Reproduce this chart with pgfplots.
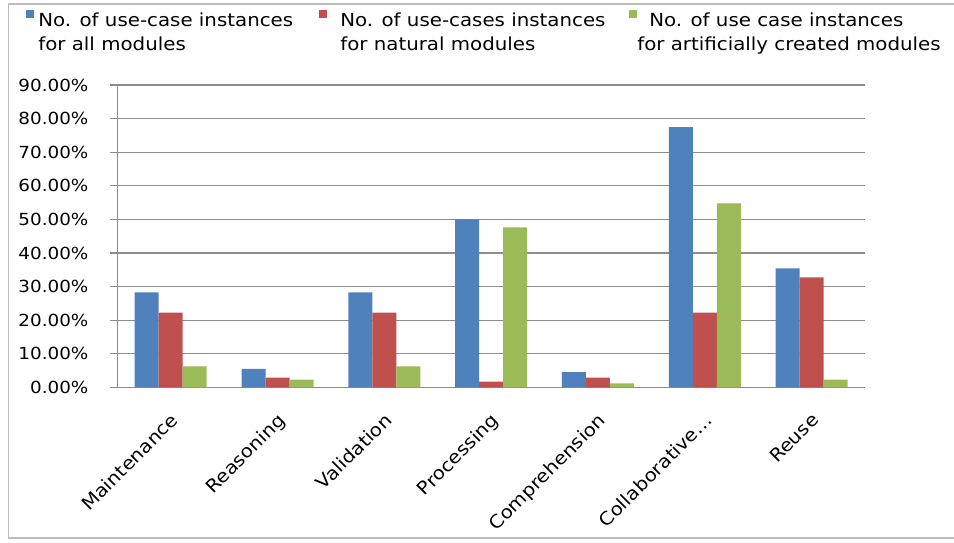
\documentclass[border=0pt]{standalone}
\usepackage{pgfplots}
\pgfplotsset{compat=1.18}
\usepackage{fontspec}
\setmainfont{DejaVu Sans}[FakeStretch=1.1]

\definecolor{cblue}{HTML}{4F81BD}
\definecolor{cred}{HTML}{C0504D}
\definecolor{cgreen}{HTML}{9BBB59}
\definecolor{gridgray}{HTML}{8C8C8C}
\definecolor{framegray}{HTML}{BDBDBD}

% one unit of the layout = 0.75pt
\pgfplotstableread{
x all natural artificial
0 28.3 22.2 6.2
1 5.5  2.9  2.3
2 28.3 22.2 6.2
3 50.0 1.7  47.6
4 4.5  2.9  1.2
5 77.5 22.2 54.8
6 35.4 32.7 2.3
}\usecases

\begin{document}
\begin{tikzpicture}[x=0.75pt,y=0.75pt]
\useasboundingbox (0,0) rectangle (954,543);
% chart area frame (open on the right)
\draw[framegray,line width=1.1pt] (954,539) -- (8.5,539) -- (8.5,5) -- (954,5);
\coordinate (plotorigin) at (117.3,155.7);
\begin{axis}[
  at={(plotorigin)}, anchor=south west,
  scale only axis, width=560.8pt, height=226.7pt,
  ybar=0pt, bar width=18pt,
  xmin=-0.5, xmax=6.5, ymin=0, ymax=90,
  axis lines*=left,
  axis line style={gridgray,line width=0.9pt},
  ytick={0,10,...,90},
  yticklabel={\pgfmathprintnumber[fixed,fixed zerofill,precision=2]{\tick}\%},
  /pgf/number format/assume math mode=true,
  yticklabel style={font=\fontsize{12.5}{14}\selectfont, inner sep=0pt, xshift=-16pt},
  ymajorgrids, major grid style={gridgray,line width=0.9pt},
  tick align=outside,
  major tick length=5.5pt,
  ytick style={gridgray,line width=0.9pt},
  xtick={0,...,6},
  xticklabels={Maintenance,Reasoning,Validation,Processing,Comprehension,Collaborative\dots,Reuse},
  xticklabel style={rotate=45, anchor=north east, font=\fontsize{13.5}{15}\selectfont, inner sep=0pt, xshift=-9.6pt, yshift=-8.4pt},
  xtick style={draw=none},
  minor xtick={-0.5,0.5,...,6.5},
  minor tick length=5pt,
  minor x tick style={gridgray,line width=0.9pt},
  legend columns=3,
  legend style={
    at={(rel axis cs:-0.122,1.25)}, anchor=north west,
    draw=none, fill=none, inner sep=0pt, column sep=0pt,
    nodes={inner sep=0pt, font=\fontsize{13.5}{18.5}\selectfont},
  },
  legend cell align=left,
  legend image code/.code={
    \path (0pt,0pt) (9pt,1pt);
    \fill[#1] (0pt,2pt) rectangle (6pt,8pt);
  },
]
\addplot[fill=cblue, draw=none] table[x=x,y=all] {\usecases};
\addplot[fill=cred, draw=none] table[x=x,y=natural] {\usecases};
\addplot[fill=cgreen, draw=none] table[x=x,y=artificial] {\usecases};
\legend{
  \parbox[t]{210.75pt}{No. of use-case instances\\for all modules},
  \parbox[t]{223.5pt}{\hspace*{6.75pt}No. of use-cases instances\\\hspace*{6.75pt}for natural modules},
  \parbox[t]{234pt}{\hspace*{6pt}No. of use case instances\\\hspace*{-3pt}for artificially created modules}
}
\end{axis}
\end{tikzpicture}
\end{document}
